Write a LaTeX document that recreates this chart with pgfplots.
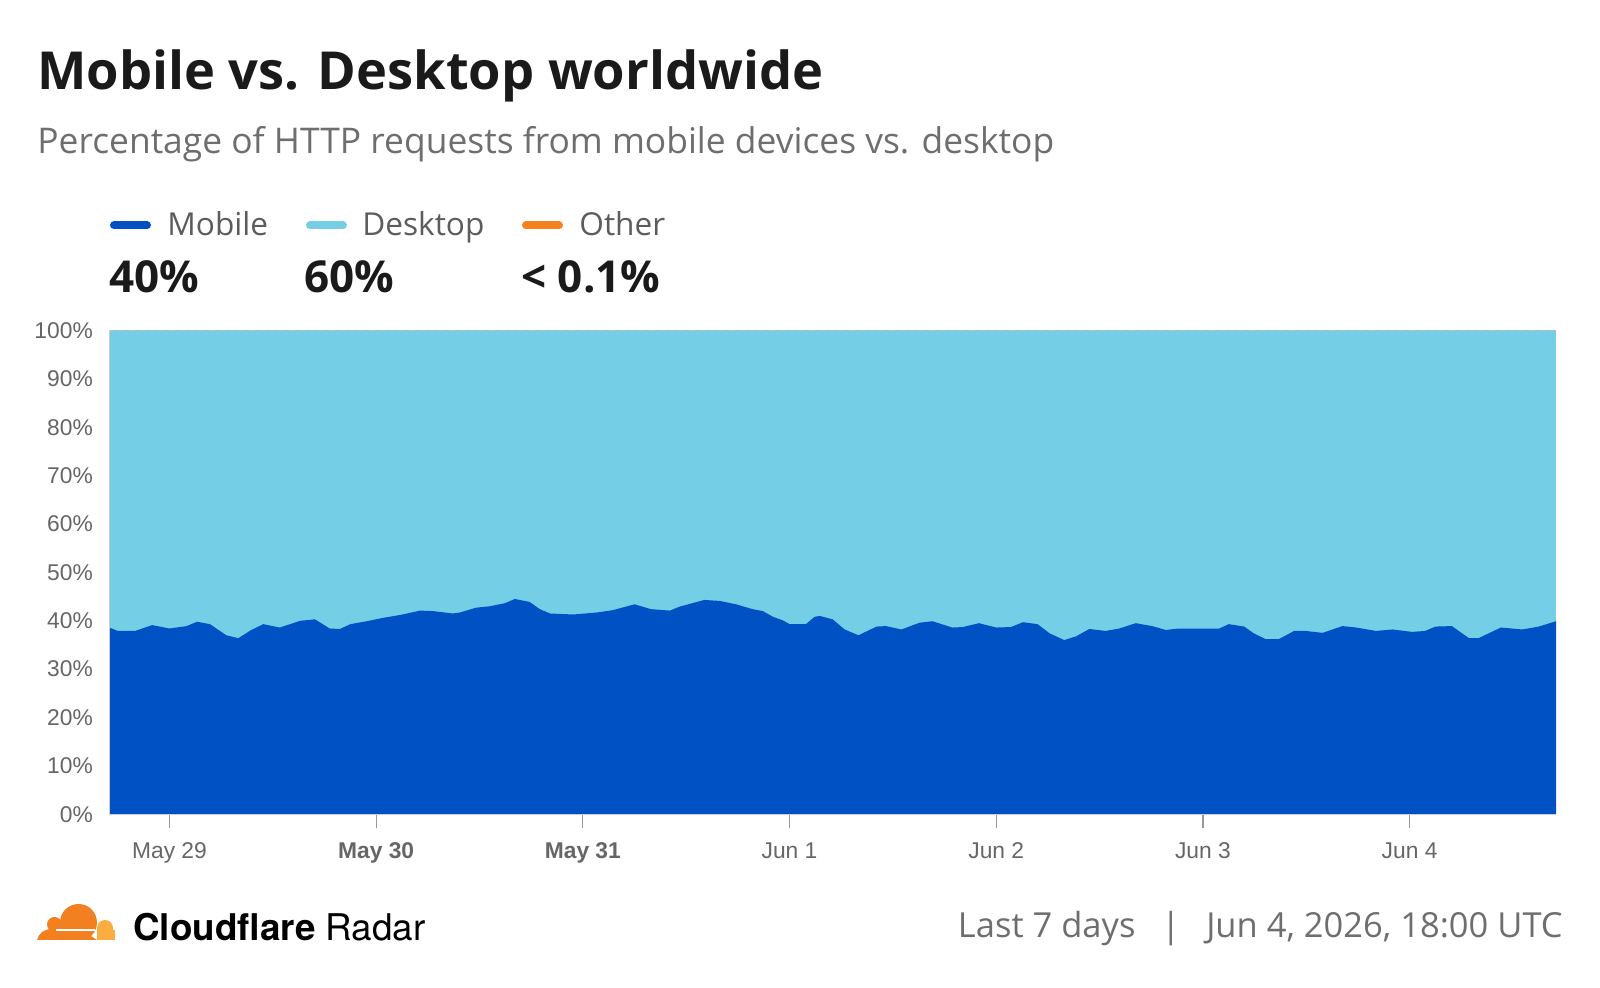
\documentclass[border=0pt]{standalone}
\usepackage{pgfplots}
\pgfplotsset{compat=1.18}
\usepackage{fontspec}
\setmainfont{Open Sans}
\newfontfamily\tickfont{Liberation Sans}
\newfontfamily\brandfont{TeX Gyre Heros}
\definecolor{mobile}{HTML}{0051C3}
\definecolor{desktop}{HTML}{73CEE6}
\definecolor{other}{HTML}{F6821F}
\definecolor{titlecol}{HTML}{1A1A1A}
\definecolor{subcol}{HTML}{6E6E6E}
\definecolor{legcol}{HTML}{5C5C5C}
\definecolor{tickcol}{HTML}{666666}
\definecolor{cfo}{HTML}{F38020}
\definecolor{cfl}{HTML}{FBAD41}
\pgfplotstableread{
h p
-7 38.6
-6 37.9
-4 37.9
-2 39.1
0 38.4
2 38.9
3.2 39.8
4.7 39.3
6.6 37.0
8 36.4
9.5 38.1
10.9 39.3
12.8 38.6
15.2 40.0
16.9 40.3
18.6 38.4
19.8 38.3
21 39.3
22.9 39.9
24.8 40.6
26.8 41.2
29.1 42.1
30.6 42.0
32.9 41.5
33.7 41.7
35.6 42.7
37.2 43.0
38.9 43.6
40.1 44.5
41.8 43.9
43 42.4
44.2 41.5
46.9 41.3
49.6 41.7
51.5 42.2
54 43.4
55.9 42.4
58.1 42.1
59.2 42.9
62.1 44.3
63.9 44.1
65.8 43.4
67.7 42.4
68.9 42.0
70.1 40.8
71.2 40.1
72 39.3
73.9 39.3
74.9 40.8
75.5 41.0
77 40.3
78.4 38.2
80 37.0
82.1 38.8
83.2 38.9
85 38.2
87.1 39.6
88.6 39.9
90.9 38.6
92.1 38.7
94 39.5
96 38.6
97.7 38.7
99.1 39.7
100.8 39.3
102.2 37.4
103.9 36.0
105.3 36.8
106.8 38.3
108.7 37.9
110.3 38.4
112.2 39.5
114.1 38.9
115.7 38.1
117.2 38.4
119.2 38.4
121.9 38.4
123 39.3
124.8 38.8
125.9 37.4
127.3 36.2
128.8 36.2
130.6 37.9
131.9 37.9
133.9 37.5
136.2 38.9
137.8 38.6
140.1 37.9
142 38.2
144.3 37.7
145.8 37.9
147 38.8
148.9 38.9
150.9 36.4
152 36.4
154.6 38.6
157.1 38.2
159 38.8
161 39.9
}\mobiletable
\begin{document}
\begin{tikzpicture}
\path[use as bounding box] (0,0) rectangle (800pt,494pt);
% title
\node[anchor=base west, inner sep=0pt, text=titlecol, font=\fontsize{26.2}{31}\selectfont\bfseries] at (18.5pt,449pt) {Mobile vs. Desktop worldwide};
\node[anchor=base west, inner sep=0pt, text=subcol, font=\fontsize{17.7}{21}\selectfont] at (18.5pt,417pt) {Percentage of HTTP requests from mobile devices vs. desktop};
% legend
\draw[line width=4pt, line cap=round, mobile] (57pt,381.25pt) -- (73.5pt,381.25pt);
\draw[line width=4pt, line cap=round, desktop] (155pt,381.25pt) -- (171.5pt,381.25pt);
\draw[line width=4pt, line cap=round, other] (263pt,381.25pt) -- (279.5pt,381.25pt);
\node[anchor=base west, inner sep=0pt, text=legcol, font=\fontsize{15.8}{19}\selectfont] at (83.5pt,376pt) {Mobile};
\node[anchor=base west, inner sep=0pt, text=legcol, font=\fontsize{15.8}{19}\selectfont] at (181pt,376pt) {Desktop};
\node[anchor=base west, inner sep=0pt, text=legcol, font=\fontsize{15.8}{19}\selectfont] at (289.5pt,376pt) {Other};
\node[anchor=base west, inner sep=0pt, text=titlecol, font=\fontsize{22}{26}\selectfont\bfseries] at (54.5pt,347.5pt) {40\%};
\node[anchor=base west, inner sep=0pt, text=titlecol, font=\fontsize{22}{26}\selectfont\bfseries] at (152pt,347.5pt) {60\%};
\node[anchor=base west, inner sep=0pt, text=titlecol, font=\fontsize{22}{26}\selectfont\bfseries] at (260.5pt,347.5pt) {< 0.1\%};
% chart
\begin{axis}[at={(54.6pt,86.85pt)}, anchor=south west, scale only axis,
  width=723.4pt, height=241.9pt,
  xmin=-7, xmax=161, ymin=0, ymax=100,
  axis on top, clip=false,
  axis x line=bottom, axis y line=left,
  axis line style={draw=black!20, line width=0.6pt, -},
  xtick={0,24,48,72,96,120,144},
  xticklabels={May 29,\textbf{May 30},\textbf{May 31},Jun 1,Jun 2,Jun 3,Jun 4},
  ytick={0,10,...,100},
  yticklabel={\pgfmathprintnumber{\tick}\%},
  /pgf/number format/assume math mode=true,
  ticklabel style={font=\fontsize{11.4}{13}\selectfont\tickfont, text=tickcol},
  xtick style={draw=black!40, line width=0.6pt},
  ytick style={draw=none},
  tick align=outside,
  major tick length=7pt,
  xticklabel style={anchor=north, inner sep=0pt, yshift=-7pt},
  yticklabel style={anchor=east, inner sep=0pt, xshift=-1pt},
]
\addplot[fill=desktop, draw=none] coordinates {(-7,100) (161,100)} \closedcycle;
\addplot[fill=mobile, draw=none] table[x=h, y=p] {\mobiletable} \closedcycle;
\draw[densely dashed, black!25, line width=0.5pt] (axis cs:-7,100) -- (axis cs:161,100);
\end{axis}
% footer logo
\begin{scope}
\clip (10pt,24pt) rectangle (60pt,50pt);
\fill[cfo] (39.25pt,32.75pt) circle (9.25pt);
\fill[cfo] (27.25pt,31.75pt) circle (3.75pt);
\fill[cfo] (18.5pt,24pt) .. controls (19.5pt,27.5pt) and (22pt,29.5pt) .. (26pt,29.5pt) -- (40pt,29.5pt) -- (48.5pt,24pt) -- cycle;
\fill[cfl] (52.5pt,30pt) circle (4pt);
\fill[cfl] (48.5pt,24pt) rectangle (57.5pt,29pt);
\fill[cfl] (55.3pt,27.5pt) circle (2.2pt);
\end{scope}
\draw[white, line width=0.7pt] (28pt,29pt) -- (47.5pt,29pt);
% footer text
\node[anchor=base west, inner sep=0pt, text=black, font=\fontsize{18.4}{22}\selectfont\brandfont] at (66.5pt,23.5pt) {\textbf{Cloudflare} Radar};
\node[anchor=base east, inner sep=0pt, text=subcol, font=\fontsize{17.25}{21}\selectfont] at (781.5pt,25pt) {Last 7 days\hspace{0.75em}|\hspace{0.75em}Jun 4, 2026, 18:00 UTC};
\end{tikzpicture}
\end{document}
